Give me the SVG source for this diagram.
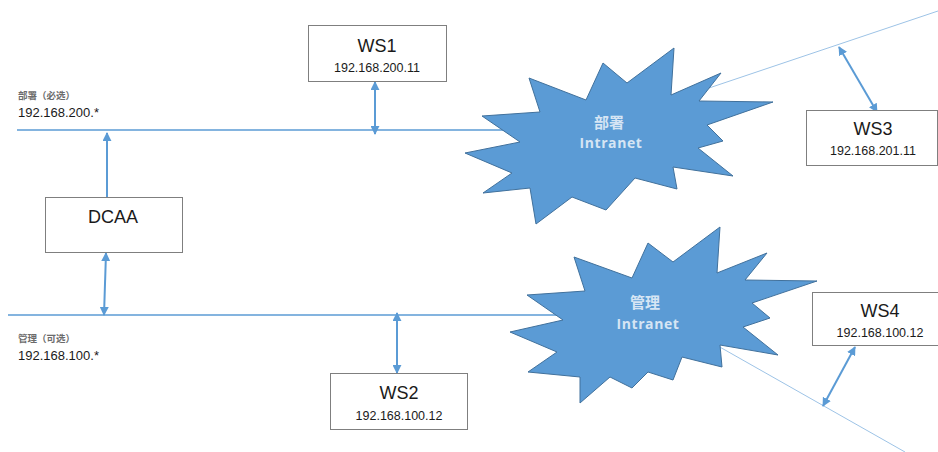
<svg xmlns="http://www.w3.org/2000/svg" width="938" height="452" viewBox="0 0 938 452">
  <defs>
    <marker id="ah" viewBox="0 0 10 10" refX="9" refY="5" markerWidth="4.5" markerHeight="4.5" orient="auto-start-reverse" markerUnits="strokeWidth">
      <path d="M0,0 L10,5 L0,10 z" fill="#5b9bd5"/>
    </marker>
    <style>
      .bus { stroke: #5b9bd5; stroke-width: 1.5; fill: none; }
      .wan { stroke: #9dc3e6; stroke-width: 1; fill: none; }
      .link { stroke: #5b9bd5; stroke-width: 2; fill: none; }
      .box { fill: #ffffff; stroke: #7f7f7f; stroke-width: 1; }
      .burst { fill: #5b9bd5; stroke: #41719c; stroke-width: 1; }
      .name { font-family: "Liberation Sans", Arial, sans-serif; font-size: 18px; fill: #1a1a1a; text-anchor: middle; }
      .ip { font-family: "Liberation Sans", Arial, sans-serif; font-size: 12.5px; fill: #1a1a1a; text-anchor: middle; }
      .net { font-family: "Liberation Sans", Arial, sans-serif; font-size: 13px; fill: #1a1a1a; }
      .tag { font-family: "Noto Sans CJK SC", sans-serif; font-size: 9.5px; font-weight: bold; fill: #6b6b6b; }
      .cloud { font-family: "Open Sans", "Noto Sans CJK SC", sans-serif; font-weight: bold; fill: #d6e5f4; text-anchor: middle; }
      .cjk { font-family: "Noto Sans CJK SC", sans-serif; font-size: 15px; }
      .lat { font-size: 14px; letter-spacing: 0.6px; }
    </style>
  </defs>

  <!-- network segments and links -->
  <g id="connectors">
    <line class="bus" x1="17" y1="130" x2="505" y2="130"/>
    <line class="bus" x1="8" y1="315" x2="558" y2="315"/>
    <line class="wan" x1="706" y1="89" x2="938" y2="11"/>
    <line class="wan" x1="718" y1="346" x2="905" y2="452"/>

    <line class="link" x1="375" y1="82" x2="375" y2="134" marker-start="url(#ah)" marker-end="url(#ah)"/>
    <line class="link" x1="397" y1="313" x2="397" y2="373" marker-start="url(#ah)" marker-end="url(#ah)"/>
    <line class="link" x1="107" y1="197" x2="107" y2="133" marker-end="url(#ah)"/>
    <line class="link" x1="106" y1="253" x2="104" y2="315" marker-start="url(#ah)" marker-end="url(#ah)"/>
    <line class="link" x1="839" y1="47" x2="877" y2="112" marker-start="url(#ah)" marker-end="url(#ah)"/>
    <line class="link" x1="855" y1="347" x2="823" y2="406" marker-start="url(#ah)" marker-end="url(#ah)"/>
  </g>

  <!-- segment labels -->
  <g id="label-deploy">
    <text class="tag" x="18" y="99">部署（必选）</text>
    <text class="net" x="18" y="117">192.168.200.*</text>
  </g>
  <g id="label-manage">
    <text class="tag" x="18" y="342">管理（可选）</text>
    <text class="net" x="18" y="360">192.168.100.*</text>
  </g>

  <g id="intranet-deploy">
    <polygon class="burst" points="465,153 520,142 482,116 540,112 529,78 586,100 603,63 627,83 674,48 671,95 721,73 699,101 773,102 707,125 723,141 698,148 733,176 673,167 677,189 635,178 606,210 572,197 536,224 530,188 483,193 512,173"/>
    <text class="cloud cjk" x="609" y="128">部署</text>
    <text class="cloud lat" x="611" y="148">Intranet</text>
  </g>

  <g id="intranet-manage">
    <polygon class="burst" points="510,332 563,320 527,295 585,291 574,257 632,278 648,243 673,262 720,227 717,273 767,253 745,280 817,281 752,303 770,318 743,327 778,355 720,345 722,367 682,357 673,380 648,372 632,388 610,377 580,403 580,377 528,372 557,352"/>
    <text class="cloud cjk" x="645" y="308">管理</text>
    <text class="cloud lat" x="648" y="329">Intranet</text>
  </g>

  <g id="ws1">
    <rect class="box" x="308.5" y="25.5" width="138" height="56"/>
    <text class="name" x="377" y="52">WS1</text>
    <text class="ip" x="377" y="72">192.168.200.11</text>
  </g>

  <g id="ws2">
    <rect class="box" x="330.5" y="373.5" width="137" height="56"/>
    <text class="name" x="399" y="399">WS2</text>
    <text class="ip" x="399" y="420">192.168.100.12</text>
  </g>

  <g id="dcaa">
    <rect class="box" x="45.5" y="197.5" width="137" height="55"/>
    <text class="name" x="113" y="223">DCAA</text>
  </g>

  <g id="ws3">
    <rect class="box" x="806.5" y="110.5" width="131" height="55"/>
    <text class="name" x="873" y="135">WS3</text>
    <text class="ip" x="873" y="155">192.168.201.11</text>
  </g>

  <g id="ws4">
    <rect class="box" x="812.5" y="292.5" width="126" height="53"/>
    <text class="name" x="880" y="317">WS4</text>
    <text class="ip" x="880" y="337">192.168.100.12</text>
  </g>
</svg>
